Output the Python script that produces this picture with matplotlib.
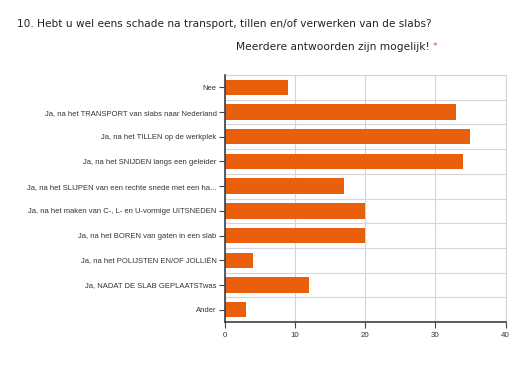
import numpy as np
from matplotlib import pyplot as plt

# Antwoorden (van boven naar beneden) en aantallen
antwoorden = [
    "Nee",
    "Ja, na het TRANSPORT van slabs naar Nederland",
    "Ja, na het TILLEN op de werkplek",
    "Ja, na het SNIJDEN langs een geleider",
    "Ja, na het SLIJPEN van een rechte snede met een ha...",
    "Ja, na het maken van C-, L- en U-vormige UITSNEDEN",
    "Ja, na het BOREN van gaten in een slab",
    "Ja, na het POLIJSTEN EN/OF JOLLIËN",
    "Ja, NADAT DE SLAB GEPLAATSTwas",
    "Ander",
]
aantallen = [9, 33, 35, 34, 17, 20, 20, 4, 12, 3]
x_ticks = [0, 10, 20, 30, 40]

oranje = "#e95f0c"
W, H = 523, 370

fig = plt.figure(figsize=(W / 100, H / 100), dpi=100)
ax = fig.add_axes([225 / W, 1 - 322 / H, (505.5 - 225) / W, (322 - 75) / H])

pos = np.arange(len(antwoorden))
ax.barh(pos, aantallen, height=0.62, color=oranje, zorder=3)

ax.set_xlim(0, 40)
ax.set_ylim(len(antwoorden) - 0.5, -0.5)
ax.set_yticks(pos)
ax.set_yticklabels(antwoorden, family="Liberation Sans", fontsize=5.5, color="#333333")
ax.set_xticks(x_ticks)
ax.set_xticklabels([str(t) for t in x_ticks], family="Liberation Sans", fontsize=5.7, color="#333333")

# lijnen tussen de categorieen
ax.set_yticks(np.arange(len(antwoorden) + 1) - 0.5, minor=True)
ax.tick_params(axis="y", which="minor", length=0)
ax.grid(True, axis="y", which="minor", color="#d4d4dc", linewidth=0.8, zorder=0)
ax.grid(True, axis="x", which="major", color="#d4d4dc", linewidth=0.8, zorder=0)

ax.tick_params(axis="y", which="major", length=4, width=0.8, color="#444444", pad=2)
ax.tick_params(axis="x", which="major", length=4, width=0.8, color="#444444", pad=3.5)

for kant in ["top", "right"]:
    ax.spines[kant].set_color("#d4d4dc")
    ax.spines[kant].set_linewidth(0.8)
for kant in ["left", "bottom"]:
    ax.spines[kant].set_color("#3a3f4a")
    ax.spines[kant].set_linewidth(1.2)
ax.spines["left"].set_zorder(4)

fig.text(17 / W, 1 - 24 / H, "10. Hebt u wel eens schade na transport, tillen en/of verwerken van de slabs?",
         family="DejaVu Sans", fontsize=7.6, color="#222222", va="center", ha="left")
fig.text(236 / W, 1 - 47 / H, "Meerdere antwoorden zijn mogelijk!",
         family="DejaVu Sans", fontsize=7.7, color="#222222", va="center", ha="left")
fig.text(433 / W, 1 - 46 / H, "*", family="DejaVu Sans", fontsize=6.5, color="#d9534f", va="center", ha="left")

fig.savefig("out.png", dpi=100)
